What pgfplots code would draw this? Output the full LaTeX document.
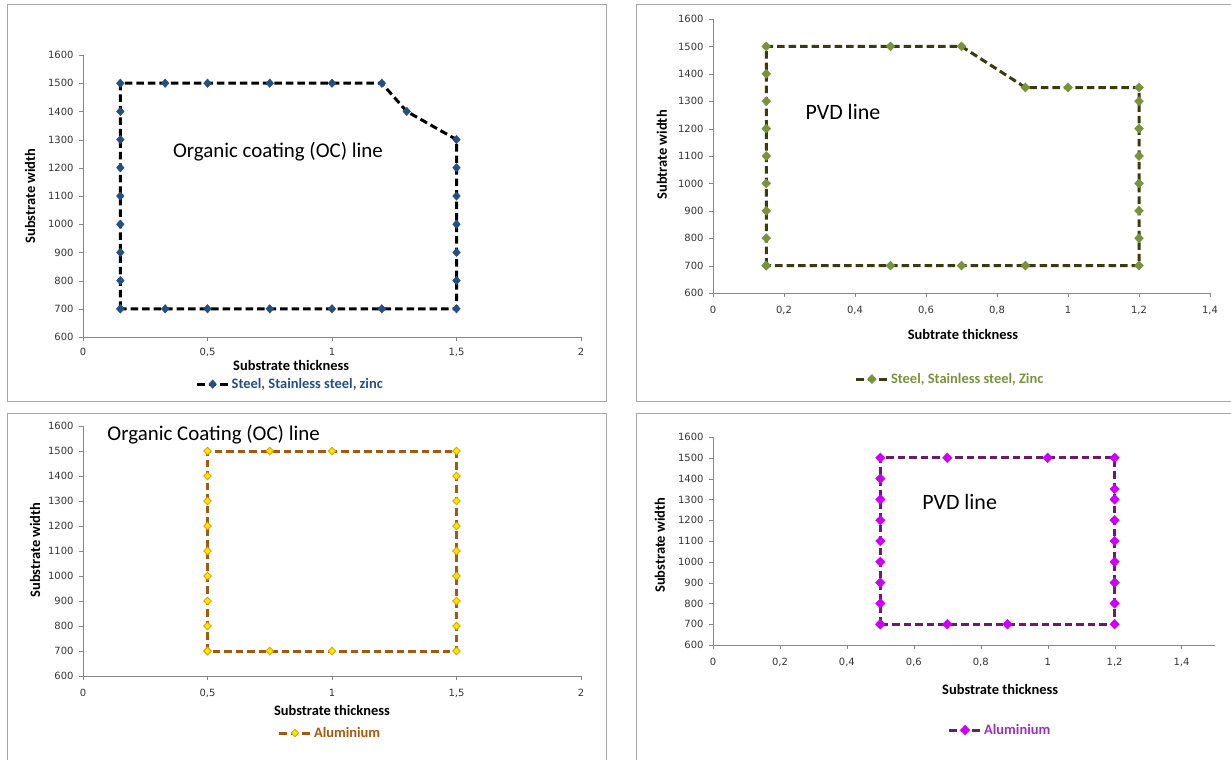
\documentclass[border=0pt]{standalone}
\usepackage{pgfplots}
\pgfplotsset{compat=1.18}
\usepackage{fontspec}
\setmainfont{Carlito}
\newfontfamily\dvsans{DejaVu Sans}

\definecolor{frame}{HTML}{A6A6A6}
\definecolor{axgray}{HTML}{868686}
\definecolor{steelblue}{HTML}{254F82}
\definecolor{olive}{HTML}{3B3B0E}
\definecolor{olivemark}{HTML}{77933C}
\definecolor{alubrown}{HTML}{A8580C}
\definecolor{aluyellow}{HTML}{FFE800}
\definecolor{aluedge}{HTML}{E0A000}
\definecolor{pvdpurple}{HTML}{6A1B6A}
\definecolor{pvdmag}{HTML}{CC00F5}
\definecolor{pvdtext}{HTML}{9A30C0}

\pgfplotsset{
  panel/.style={
    scale only axis,
    anchor=south west,
    axis lines*=left,
    axis line style={axgray},
    tick style={axgray},
    tick align=outside,
    major tick length=4bp,
    ymin=600, ymax=1600,
    ytick={600,700,...,1600},
    clip=false,
    /pgf/number format/assume math mode=true,
    /pgf/number format/use comma,
    /pgf/number format/1000 sep={},
    every tick label/.append style={font=\dvsans\fontsize{10}{12}\selectfont, text=black!80},
    xticklabel style={yshift=-6bp},
    yticklabel style={xshift=-2bp},
    every axis label/.append style={font=\bfseries\fontsize{14.5}{16}\selectfont},
    legend style={draw=none, fill=none, anchor=center,
      font=\bfseries\fontsize{14.5}{16}\selectfont},
    legend image code/.code={\draw[mark repeat=2,mark phase=2,##1]
      plot coordinates {(0cm,0cm) (0.55cm,0cm) (1.1cm,0cm)};},
    every axis plot/.append style={line width=3bp, dash pattern=on 7.5bp off 4bp},
  },
}

\begin{document}
\begin{tikzpicture}
\useasboundingbox (0bp,0bp) rectangle (1231bp,-760bp);
\draw[frame] (7bp,-4bp) rectangle (606bp,-401bp);
\draw[frame] (636bp,-4bp) rectangle (1233bp,-401bp);
\draw[frame] (7bp,-413bp) rectangle (606bp,-765bp);
\draw[frame] (636bp,-413bp) rectangle (1233bp,-765bp);

% organic coating line, steel
\begin{axis}[panel, at={(83bp,-337bp)}, width=498bp, height=282bp,
  xmin=0, xmax=2, xtick={0,0.5,...,2},
  xticklabel style={yshift=2.5bp},
  xlabel={Substrate thickness}, ylabel={Substrate width},
  xlabel style={at={(axis description cs:0.418,-0.1)}, anchor=center},
  ylabel style={at={(axis description cs:-0.106,0.5)}, anchor=center},
  legend style={at={(axis description cs:0.416,-0.167)}, text=steelblue}]
\addplot[black, mark=diamond*, mark size=4.2bp,
  mark options={solid, xscale=1.2, line width=0.5bp, fill=steelblue, draw=steelblue}] coordinates {
  (0.15,700) (0.15,800) (0.15,900) (0.15,1000) (0.15,1100) (0.15,1200)
  (0.15,1300) (0.15,1400) (0.15,1500) (0.33,1500) (0.5,1500) (0.75,1500)
  (1,1500) (1.2,1500) (1.3,1400) (1.5,1300) (1.5,1200) (1.5,1100)
  (1.5,1000) (1.5,900) (1.5,800) (1.5,700) (1.2,700) (1,700) (0.75,700)
  (0.5,700) (0.33,700) (0.15,700)};
\addlegendentry{Steel, Stainless steel, zinc}
\node[font=\fontsize{21}{24}\selectfont] at (axis cs:0.783,1256) {Organic coating (OC) line};
\end{axis}

% PVD line, steel
\begin{axis}[panel, at={(713bp,-293bp)}, width=497bp, height=274bp,
  xmin=0, xmax=1.4, xtick={0,0.2,...,1.4},
  xlabel={Subtrate thickness}, ylabel={Subtrate width},
  xlabel style={at={(axis description cs:0.503,-0.153)}, anchor=center},
  ylabel style={at={(axis description cs:-0.103,0.504)}, anchor=center},
  legend style={at={(axis description cs:0.477,-0.314)}, text=olivemark}]
\addplot[olive, mark=diamond*, mark size=4.5bp,
  mark options={solid, xscale=1.3, line width=0.5bp, fill=olivemark, draw=olivemark}] coordinates {
  (0.15,700) (0.15,800) (0.15,900) (0.15,1000) (0.15,1100) (0.15,1200)
  (0.15,1300) (0.15,1400) (0.15,1500) (0.5,1500) (0.7,1500) (0.88,1350)
  (1,1350) (1.2,1350) (1.2,1300) (1.2,1200) (1.2,1100) (1.2,1000)
  (1.2,900) (1.2,800) (1.2,700) (0.88,700) (0.7,700) (0.5,700) (0.15,700)};
\addlegendentry{Steel, Stainless steel, Zinc}
\node[font=\fontsize{22}{25}\selectfont] at (axis cs:0.366,1261) {PVD line};
\end{axis}

% organic coating line, aluminium
\begin{axis}[panel, at={(83bp,-676bp)}, width=498bp, height=250bp,
  xmin=0, xmax=2, xtick={0,0.5,...,2},
  xlabel={Substrate thickness}, ylabel={Substrate width},
  xlabel style={at={(axis description cs:0.5,-0.136)}, anchor=center},
  ylabel style={at={(axis description cs:-0.096,0.504)}, anchor=center},
  legend style={at={(axis description cs:0.496,-0.228)}, text=alubrown}]
\addplot[alubrown, mark=diamond*, mark size=3.8bp,
  mark options={solid, xscale=1.3, fill=aluyellow, draw=aluedge, line width=0.8bp}] coordinates {
  (0.5,700) (0.5,800) (0.5,900) (0.5,1000) (0.5,1100) (0.5,1200)
  (0.5,1300) (0.5,1400) (0.5,1500) (0.75,1500) (1,1500) (1.5,1500)
  (1.5,1400) (1.5,1300) (1.5,1200) (1.5,1100) (1.5,1000) (1.5,900)
  (1.5,800) (1.5,700) (1,700) (0.75,700) (0.5,700)};
\addlegendentry{Aluminium}
\node[font=\fontsize{21}{24}\selectfont, anchor=west] at (axis cs:0.084,1564) {Organic Coating (OC) line};
\end{axis}

% PVD line, aluminium
\begin{axis}[panel, at={(713bp,-645bp)}, width=502bp, height=208bp,
  xmin=0, xmax=1.5, xtick={0,0.2,...,1.4},
  xlabel={Substrate thickness}, ylabel={Substrate width},
  xlabel style={at={(axis description cs:0.572,-0.216)}, anchor=center},
  ylabel style={at={(axis description cs:-0.106,0.48)}, anchor=center},
  legend style={at={(axis description cs:0.572,-0.409)}, text=pvdtext}]
\addplot[pvdpurple, mark=diamond*, mark size=4.8bp,
  mark options={solid, xscale=1.3, line width=0.5bp, fill=pvdmag, draw=pvdmag}] coordinates {
  (0.5,700) (0.5,800) (0.5,900) (0.5,1000) (0.5,1100) (0.5,1200)
  (0.5,1300) (0.5,1400) (0.5,1500) (0.7,1500) (1,1500) (1.2,1500)
  (1.2,1350) (1.2,1300) (1.2,1200) (1.2,1100) (1.2,1000) (1.2,900)
  (1.2,800) (1.2,700) (0.88,700) (0.7,700) (0.5,700)};
\addlegendentry{Aluminium}
\node[font=\fontsize{22}{25}\selectfont] at (axis cs:0.737,1288) {PVD line};
\end{axis}
\end{tikzpicture}
\end{document}
